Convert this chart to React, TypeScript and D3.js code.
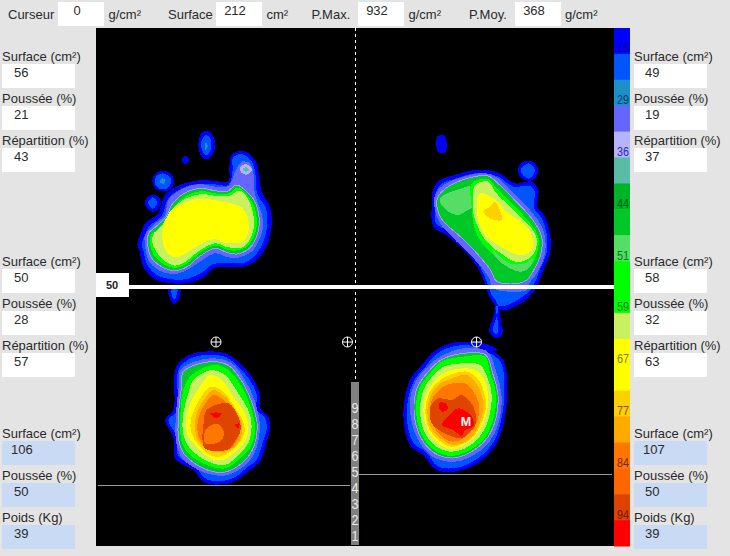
import React from "react";
import * as d3 from "d3";

type P = [number, number];
type Layer = { band: number; pts: P[]; ring?: string };

const W = 730, H = 556;
const bandColors = ["#0000ff","#0055ff","#1e90c8","#6666ff","#b4b4ff","#5abca6","#00b428","#00c828","#55dd66","#00ff00","#00ff00","#c8f060","#ffff00","#ffff00","#ffd000","#ffaa00","#ff7700","#ff6600","#dd4400","#ff0000"];
const legendLabels = ["18","29","36","44","51","59","67","77","84","94"];
const legendLabelColors = ["#000088","#003a70","#2a2ab0","#005a10","#007a10","#007a10","#807800","#7a5000","#7a2000","#7a1000"];
const legendLabelBands = [0,2,4,6,8,10,12,14,16,18];
const rulerDigits = ["9","8","7","6","5","4","3","2","1"];

const topLabels: [string, number][] = [["Curseur",8],["g/cm²",108.5],["Surface",168],["cm²",266.5],["P.Max.",311.5],["g/cm²",408.5],["P.Moy.",469],["g/cm²",565]];
const topBoxes: [string, number][] = [["0",58],["212",216],["932",358],["368",515]];

const leftTop: [string,string][] = [["Surface (cm²)","56"],["Poussée (%)","21"],["Répartition (%)","43"]];
const leftMid: [string,string][] = [["Surface (cm²)","50"],["Poussée (%)","28"],["Répartition (%)","57"]];
const leftBot: [string,string][] = [["Surface (cm²)","106"],["Poussée (%)","50"],["Poids (Kg)","39"]];
const rightTop: [string,string][] = [["Surface (cm²)","49"],["Poussée (%)","19"],["Répartition (%)","37"]];
const rightMid: [string,string][] = [["Surface (cm²)","58"],["Poussée (%)","32"],["Répartition (%)","63"]];
const rightBot: [string,string][] = [["Surface (cm²)","107"],["Poussée (%)","50"],["Poids (Kg)","39"]];

const RING = "#9c9cff";

const footA: Layer[] = [
 {band:0,pts:[[395,105],[420,92],[445,100],[468,125],[478,170],[485,215],[510,260],[515,310],[505,365],[480,410],[440,438],[395,440],[340,445],[315,470],[270,488],[215,490],[165,478],[130,440],[118,390],[112,372],[125,335],[135,310],[175,280],[195,225],[240,195],[290,182],[340,182],[385,185],[388,140]]},
 {band:1,pts:[[398,115],[420,102],[442,110],[458,130],[468,175],[472,222],[498,265],[502,310],[492,360],[470,400],[435,428],[395,428],[340,432],[305,458],[265,476],[215,478],[170,465],[142,435],[130,390],[125,372],[138,338],[148,318],[185,288],[205,235],[245,205],[290,192],[340,192],[385,195],[398,150]]},
 {band:3,pts:[[408,150],[425,125],[450,130],[462,170],[465,225],[480,265],[490,310],[480,355],[455,395],[420,412],[385,412],[345,400],[300,425],[270,445],[225,462],[175,450],[145,420],[135,375],[135,345],[160,315],[195,285],[205,240],[250,205],[300,192],[345,200],[385,198]]},
 {band:7,ring:RING,pts:[[300,205],[345,212],[380,215],[410,195],[440,215],[465,245],[478,310],[468,355],[448,385],[410,402],[380,397],[345,385],[295,412],[265,438],[225,452],[185,440],[152,410],[143,370],[146,340],[170,318],[200,288],[215,255],[250,222]]},
 {band:9,pts:[[305,213],[345,220],[382,222],[415,203],[445,230],[463,260],[471,310],[461,352],[438,382],[405,392],[382,389],[345,377],[292,405],[262,430],[225,444],[190,432],[160,403],[150,368],[153,345],[178,323],[205,288],[222,260],[258,228]]},
 {band:11,pts:[[310,222],[345,228],[385,228],[420,212],[450,248],[462,310],[454,350],[428,382],[385,382],[345,370],[290,398],[260,423],[225,437],[195,424],[168,393],[156,365],[163,338],[185,318],[205,283],[225,258],[265,232]]},
 {band:12,pts:[[285,238],[330,238],[370,246],[425,262],[442,290],[446,330],[430,364],[395,370],[370,368],[345,357],[310,368],[270,392],[230,412],[205,402],[188,365],[190,320],[215,268],[250,250]]},
 {band:0,pts:[[318,33],[335,40],[345,70],[340,100],[320,118],[302,105],[295,70],[302,42]]},
 {band:1,pts:[[318,45],[331,55],[334,82],[320,106],[307,92],[304,65]]},
 {band:2,pts:[[318,68],[323,76],[320,88],[315,88],[314,76]]},
 {band:0,pts:[[256,108],[268,120],[256,132],[244,120]]},
 {band:0,pts:[[188,152],[212,160],[222,183],[212,208],[188,214],[165,205],[157,183],[165,162]]},
 {band:1,pts:[[188,160],[206,168],[214,183],[206,202],[188,208],[170,200],[164,183],[170,168]]},
 {band:2,pts:[[188,175],[197,183],[188,192],[179,183]]},
 {band:0,pts:[[158,224],[175,230],[183,248],[175,268],[158,275],[142,266],[134,248],[142,232]]},
 {band:1,pts:[[158,232],[172,248],[158,266],[144,248]]},
 {band:0,pts:[[205,505],[240,505],[235,540],[222,552],[212,540]]},
 {band:1,pts:[[215,508],[232,508],[228,530],[222,538],[217,530]]},
 {band:4,pts:[[420,145],[435,132],[452,140],[455,152],[440,164],[424,158]]},
 {band:5,pts:[[428,148],[440,142],[448,150],[438,156]]},
];

const footB: Layer[] = [
 {band:0,pts:[[100,205],[120,180],[165,165],[210,152],[260,150],[300,160],[345,190],[395,185],[415,210],[412,260],[435,290],[450,340],[450,400],[430,450],[405,510],[370,545],[320,570],[300,570],[302,595],[305,620],[310,635],[290,655],[270,640],[268,625],[280,590],[285,560],[265,525],[255,490],[225,430],[180,380],[140,345],[100,320],[95,260]]},
 {band:1,pts:[[110,210],[128,190],[170,175],[212,162],[258,160],[295,170],[340,200],[390,198],[404,215],[402,265],[425,295],[440,342],[440,398],[420,448],[395,505],[360,535],[315,558],[288,560],[292,595],[295,625],[290,642],[278,632],[290,590],[294,555],[275,525],[262,490],[232,425],[188,372],[148,335],[108,310],[105,260]]},
 {band:3,pts:[[105,225],[130,195],[210,165],[260,160],[295,175],[340,220],[390,270],[430,330],[435,400],[410,460],[385,495],[380,510],[330,515],[280,505],[265,470],[225,420],[170,365],[120,310],[105,270]]},
 {band:7,ring:RING,pts:[[112,235],[140,203],[210,173],[265,168],[297,193],[342,238],[397,298],[425,350],[423,400],[403,447],[378,482],[330,492],[288,482],[273,452],[228,397],[178,347],[128,302],[112,267]]},
 {band:8,pts:[[120,235],[185,205],[212,200],[218,260],[200,272],[170,285],[130,262]]},
 {band:9,pts:[[215,190],[265,178],[290,205],[340,255],[395,315],[415,350],[412,395],[392,438],[365,452],[330,440],[290,412],[250,375],[225,330],[215,260]]},
 {band:8,pts:[[275,385],[305,415],[335,432],[375,430],[398,415],[390,440],[365,455],[330,445],[290,415]]},
 {band:11,pts:[[225,195],[265,185],[285,215],[335,265],[395,325],[410,355],[405,395],[380,420],[345,425],[310,405],[270,375],[240,335],[220,280],[220,225]]},
 {band:12,pts:[[240,220],[280,235],[320,275],[380,320],[400,360],[395,390],[370,405],[340,400],[295,375],[255,345],[235,300],[230,250]]},
 {band:14,pts:[[285,245],[305,300],[270,295],[250,275],[270,260]]},
 {band:0,pts:[[113,48],[135,48],[137,95],[125,100],[113,95]]},
 {band:0,pts:[[385,122],[405,130],[415,152],[405,175],[385,183],[362,172],[353,152],[362,130]]},
 {band:1,pts:[[385,130],[405,152],[385,176],[362,152]]},
 {band:0,pts:[[135,688],[170,672],[215,666],[260,672],[290,688],[290,692],[135,692]]},
];

const footC: Layer[] = [
 {band:0,pts:[[130,70],[220,68],[265,95],[305,140],[330,190],[330,235],[355,260],[360,300],[350,335],[330,395],[300,420],[245,458],[165,458],[130,420],[75,385],[70,320],[45,270],[70,240],[75,120],[95,90]]},
 {band:1,pts:[[135,80],[218,78],[258,103],[296,146],[320,192],[320,240],[345,263],[350,298],[340,332],[320,388],[292,412],[240,448],[170,448],[136,410],[85,378],[80,318],[55,270],[80,245],[84,124],[102,98]]},
 {band:3,pts:[[92,118],[180,85],[243,98],[284,148],[314,212],[330,290],[320,352],[294,398],[228,436],[163,428],[96,384],[78,332],[78,250],[86,170]]},
 {band:7,ring:RING,pts:[[100,125],[182,95],[238,108],[278,158],[306,218],[322,288],[312,348],[286,390],[226,426],[167,418],[104,374],[86,328],[86,248],[94,175]]},
 {band:9,pts:[[125,135],[190,105],[235,120],[275,170],[300,225],[315,285],[305,345],[270,385],[225,415],[170,405],[110,365],[92,320],[92,240],[100,180]]},
 {band:11,pts:[[130,150],[185,120],[225,135],[265,190],[295,240],[305,290],[295,340],[265,375],[225,405],[175,395],[120,355],[100,315],[100,250],[115,190]]},
 {band:12,pts:[[180,135],[215,150],[250,200],[285,250],[295,295],[285,335],[255,365],[220,390],[180,385],[135,345],[110,310],[108,265],[125,210],[150,170]]},
 {band:14,pts:[[185,170],[220,185],[250,225],[275,265],[285,300],[270,335],[240,365],[210,380],[180,375],[145,345],[125,310],[122,270],[140,225],[160,190]]},
 {band:15,pts:[[190,180],[225,200],[255,240],[275,280],[270,330],[240,360],[190,365],[150,340],[135,300],[140,250],[165,205]]},
 {band:16,pts:[[190,195],[222,210],[250,245],[270,285],[262,330],[236,358],[190,358],[155,338],[142,300],[148,255],[170,215]]},
 {band:18,pts:[[170,240],[235,220],[265,260],[272,300],[250,340],[235,358],[165,355],[162,270]]},
 {band:16,pts:[[175,290],[205,282],[222,310],[210,335],[165,340],[163,310]]},
 {band:19,pts:[[180,250],[215,250],[200,265]]},
 {band:19,pts:[[255,285],[268,280],[265,295]]},
];

const footD: Layer[] = [
 {band:0,pts:[[165,45],[230,35],[290,55],[340,90],[352,180],[345,260],[320,340],[270,395],[210,422],[140,420],[100,375],[60,345],[40,250],[60,150],[100,100],[125,70]]},
 {band:1,pts:[[170,55],[230,45],[285,63],[332,96],[343,180],[336,258],[312,334],[262,386],[208,412],[145,410],[108,366],[70,338],[50,250],[70,156],[108,108],[132,78]]},
 {band:3,pts:[[150,80],[220,55],[293,65],[320,130],[335,200],[325,282],[295,340],[243,380],[190,396],[128,380],[82,325],[60,240],[70,168],[106,116]]},
 {band:7,ring:RING,pts:[[153,90],[220,70],[287,75],[308,130],[324,195],[314,278],[285,332],[235,370],[188,384],[132,368],[90,318],[72,240],[82,172],[115,125]]},
 {band:9,pts:[[155,95],[220,80],[285,80],[300,130],[318,190],[308,275],[280,330],[230,365],[185,378],[135,362],[95,315],[78,240],[88,175],[120,130]]},
 {band:11,pts:[[160,110],[220,100],[270,105],[295,150],[305,195],[295,270],[265,325],[225,355],[180,365],[140,350],[105,310],[90,240],[100,180],[130,135]]},
 {band:12,pts:[[170,125],[230,115],[265,125],[290,170],[295,220],[280,280],[250,325],[215,350],[180,358],[145,340],[115,305],[100,240],[110,190],[140,145]]},
 {band:14,pts:[[172,138],[230,125],[268,152],[285,200],[288,230],[272,285],[242,328],[205,347],[180,350],[148,332],[118,298],[106,240],[118,188],[145,155]]},
 {band:15,pts:[[175,150],[230,135],[270,180],[280,230],[265,290],[235,330],[190,345],[150,325],[120,290],[112,240],[125,190],[150,160]]},
 {band:16,pts:[[170,165],[225,160],[250,185],[268,230],[255,290],[225,322],[190,335],[155,320],[130,285],[120,240],[130,200]]},
 {band:18,pts:[[145,205],[185,210],[215,195],[250,230],[258,280],[235,310],[215,325],[165,310],[125,280],[122,230]]},
 {band:19,pts:[[205,235],[245,260],[250,290],[225,300],[215,318],[190,300],[155,285],[170,265]]},
 {band:19,pts:[[150,218],[170,222],[172,240],[158,245],[146,232]]},
];

const feet = [
  { layers: footA, ox: 100, oy: 120, w: 200, h: 200 },
  { layers: footB, ox: 400, oy: 120, w: 170, h: 230 },
  { layers: footC, ox: 150, oy: 330, w: 230, h: 226 },
  { layers: footD, ox: 390, oy: 330, w: 140, h: 160 },
];
const crosshairs: P[] = [[216,342],[347.5,342],[476.5,342]];

const plot = { x: 96, y: 28, w: 518, h: 518 };
const FONT = "'Liberation Sans', Arial, sans-serif";
const TXT = "#2a2a2a";

function Foot({ f }: { f: typeof feet[number] }) {
  const x = d3.scaleLinear().domain([0, f.w * 3]).range([f.ox, f.ox + f.w]);
  const y = d3.scaleLinear().domain([0, f.h * 3]).range([f.oy, f.oy + f.h]);
  const line = d3.line<P>().x(d => x(d[0])).y(d => y(d[1])).curve(d3.curveCatmullRomClosed.alpha(0.5));
  return <g shapeRendering="crispEdges">{f.layers.map((l, i) => (
    <path key={i} d={line(l.pts) || ""} fill={bandColors[l.band]}
      stroke={l.ring ?? "none"} strokeWidth={l.ring ? 1 : 0} />
  ))}</g>;
}

function Panel({ items, x, y, fill, vx }: { items: [string,string][]; x: number; y: number; fill: string; vx: number[] }) {
  return <g>{items.map(([lab, val], i) => {
    const dy = y + i * 42;
    return <g key={i}>
      <rect x={x} y={dy + 8} width={73} height={24} fill={fill} />
      <text x={x} y={dy + 4.5} fontSize={13} fontFamily={FONT} fill={TXT}>{lab}</text>
      <text x={x + vx[i]} y={dy + 20.5} fontSize={13} fontFamily={FONT} fill={TXT}>{val}</text>
    </g>;
  })}</g>;
}

export default function App() {
  const band = d3.scaleBand<number>().domain(d3.range(bandColors.length)).range([plot.y, plot.y + plot.h]);
  const rulerY = d3.scalePoint<string>().domain(rulerDigits).range([407.5, 535.5]);
  return (
    <svg width={W} height={H} viewBox={`0 0 ${W} ${H}`} style={{ position: "fixed", left: 0, top: 0, display: "block" }}>
      <defs>
        <filter id="soft" x="0" y="0" width="1" height="1"><feGaussianBlur stdDeviation="0.45" /></filter>
      </defs>
      <rect width={W} height={H} fill="#e4e4e4" />
      {topLabels.map(([t, x], i) => <text key={i} x={x} y={19} fontSize={13} fontFamily={FONT} fill={TXT}>{t}</text>)}
      {topBoxes.map(([t, x], i) => <g key={i}>
        <rect x={x} y={2} width={46} height={24} fill="#fff" />
        <text x={x + 19} y={15} fontSize={13} fontFamily={FONT} fill={TXT} textAnchor="middle">{t}</text>
      </g>)}
      <rect x={plot.x} y={plot.y} width={plot.w} height={plot.h} fill="#000" />
      <g filter="url(#soft)">
        <rect x={plot.x} y={plot.y} width={plot.w} height={plot.h} fill="#000" />
        {feet.map((f, i) => <Foot key={i} f={f} />)}
      </g>
      {bandColors.map((c, i) => <rect key={i} x={614} y={band(i)!} width={16} height={band.bandwidth() + 0.5} fill={c} />)}
      {legendLabels.map((t, i) => {
        const b = legendLabelBands[i];
        return <text key={t} x={617} y={band(b)! + band.bandwidth() * 0.75 + 5} fontSize={12.5} fontFamily={FONT} fill={legendLabelColors[i]}
          textLength={12} lengthAdjust="spacingAndGlyphs">{t}</text>;
      })}
      <rect x={96} y={285} width={518} height={4} fill="#fff" />
      <rect x={96} y={273} width={33} height={24} fill="#fff" />
      <text x={112} y={289} textAnchor="middle" fontSize={11} fontWeight="bold" fontFamily={FONT} fill="#222">50</text>
      <line x1={98} x2={350} y1={485.5} y2={485.5} stroke="#999" />
      <line x1={359} x2={612} y1={474.5} y2={474.5} stroke="#999" />
      <line x1={355.5} x2={355.5} y1={28} y2={382} stroke="#fff" strokeDasharray="3 3" />
      <rect x={351} y={382} width={8} height={163} fill="#808080" />
      {rulerDigits.map(d => <text key={d} x={355} y={rulerY(d)! + 5.5} textAnchor="middle" fontSize={14.5} fontFamily={FONT} fill="#e8e8e8"
        textLength={7} lengthAdjust="spacingAndGlyphs">{d}</text>)}
      {crosshairs.map(([cx, cy], i) => <g key={i} stroke="#fff" fill="none">
        <circle cx={cx} cy={cy} r={5} />
        <line x1={cx - 5} x2={cx + 5} y1={cy} y2={cy} />
        <line x1={cx} x2={cx} y1={cy - 5} y2={cy + 5} />
      </g>)}
      <text x={466} y={426} textAnchor="middle" fontSize={12.5} fontWeight="bold" fontFamily={FONT} fill="#fff">M</text>
      <Panel items={leftTop} x={2} y={56} fill="#fff" vx={[12,12,12]} />
      <Panel items={leftMid} x={2} y={261} fill="#fff" vx={[12,12,12]} />
      <Panel items={leftBot} x={2} y={433} fill="#c9daf4" vx={[9,12,12]} />
      <Panel items={rightTop} x={634} y={56} fill="#fff" vx={[11,11,11]} />
      <Panel items={rightMid} x={634} y={261} fill="#fff" vx={[11,11,11]} />
      <Panel items={rightBot} x={634} y={433} fill="#c9daf4" vx={[9,11,11]} />
    </svg>
  );
}
